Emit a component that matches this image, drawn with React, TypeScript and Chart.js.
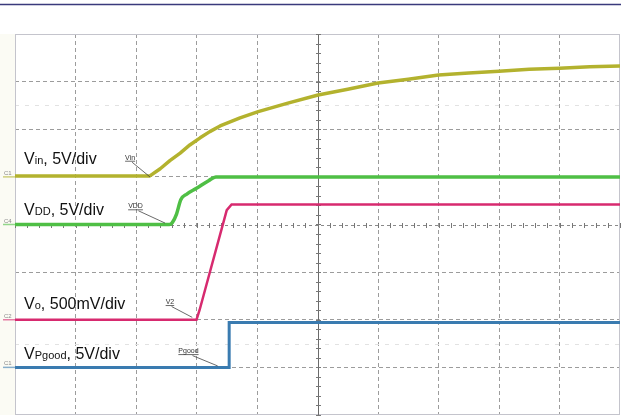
import React, { useEffect, useRef } from "react";
import { Chart, registerables } from "chart.js";

Chart.register(...registerables);

// Time axis in divisions (0..10), vertical in divisions (0..8 from bottom)
const vinX = [0, 2.23, 2.4, 2.56, 2.73, 2.89, 3.06, 3.22, 3.39, 3.72, 4.02, 4.51, 5.01, 5.5, 6.0, 6.5, 7.0, 7.5, 8.0, 8.5, 9.0, 9.5, 10];
const vinY = [5.02, 5.02, 5.17, 5.34, 5.5, 5.67, 5.82, 5.95, 6.07, 6.24, 6.37, 6.55, 6.72, 6.84, 6.97, 7.05, 7.14, 7.18, 7.22, 7.26, 7.28, 7.31, 7.33];

const vddX = [0, 2.55, 2.6, 2.67, 2.74, 2.84, 3.0, 3.2, 3.32, 10];
const vddY = [4.0, 4.0, 4.04, 4.22, 4.52, 4.64, 4.76, 4.92, 5.0, 5.0];

const voX = [0, 3.0, 3.05, 3.5, 3.58, 10];
const voY = [2.0, 2.0, 2.2, 4.3, 4.42, 4.42];

const pgX = [0, 3.54, 3.54, 10];
const pgY = [1.0, 1.0, 1.94, 1.94];

const xTicks = [0, 1, 2, 3, 4, 5, 6, 7, 8, 9, 10];
const yTicks = [0, 1, 2, 3, 4, 5, 6, 7, 8];

// Trace legends (main text, subscript, rest)
const legendMain = ["V", "V", "V", "V"];
const legendSub = ["in", "DD", "o", "Pgood"];
const legendRest = [", 5V/div", ", 5V/div", ", 500mV/div", ", 5V/div"];
const legendAt = [[0.15, 5.27], [0.15, 4.2], [0.15, 2.23], [0.15, 1.18]];

// small probe tags
const tagText = ["Vin", "VDD", "V2", "Pgood"];
const tagAt = [[1.82, 5.36], [1.87, 4.34], [2.49, 2.33], [2.7, 1.3]];
const tagTo = [[2.23, 5.0], [2.48, 4.03], [2.93, 2.05], [3.35, 1.03]];

const chanText = ["C1", "C4", "C2", "C1"];
const chanLevel = [5.0, 4.0, 2.0, 1.0];

const colors = ["#b3b22e", "#4fbf45", "#d72a6f", "#3a7bb0"];

const zip = (xs: number[], ys: number[]) => xs.map((x, i) => ({ x, y: ys[i] }));

export default function App() {
  const ref = useRef<HTMLCanvasElement | null>(null);
  useEffect(() => {
    document.body.style.margin = "0";
    const canvas = ref.current!;
    const deco = {
      id: "deco",
      beforeDatasetsDraw(chart: any) {
        const { ctx, chartArea: a, scales } = chart;
        const xs = scales.x, ys = scales.y;
        ctx.save();
        // left strip tint
        ctx.fillStyle = "#fbfbf4";
        ctx.fillRect(0, a.top, a.left, a.bottom - a.top);
        // faint extra dashed rows
        ctx.strokeStyle = "#e2e2e2";
        ctx.lineWidth = 1;
        ctx.setLineDash([4, 6]);
        [6.5, 1.5].forEach((v) => {
          const y = Math.round(ys.getPixelForValue(v)) + 0.5;
          ctx.beginPath();
          ctx.moveTo(a.left, y);
          ctx.lineTo(a.right, y);
          ctx.stroke();
        });
        ctx.setLineDash([]);
        // frame
        ctx.strokeStyle = "#c4c4cc";
        ctx.lineWidth = 1;
        ctx.strokeRect(a.left + 0.5, a.top + 0.5, a.right - a.left - 1, a.bottom - a.top - 1);
        // center crosshair
        const cx = Math.round(xs.getPixelForValue(5)) + 0.5;
        const cy = Math.round(ys.getPixelForValue(4)) + 0.5;
        ctx.strokeStyle = "#6a6a6a";
        ctx.beginPath();
        ctx.moveTo(cx, a.top);
        ctx.lineTo(cx, a.bottom);
        ctx.stroke();
        ctx.setLineDash([3, 3]);
        ctx.strokeStyle = "#8a8a8a";
        ctx.beginPath();
        ctx.moveTo(a.left, cy);
        ctx.lineTo(a.right, cy);
        ctx.stroke();
        ctx.setLineDash([]);
        ctx.strokeStyle = "#777";
        for (let v = 0; v <= 8.001; v += 0.2) {
          const y = Math.round(ys.getPixelForValue(v)) + 0.5;
          ctx.beginPath();
          ctx.moveTo(cx - 2.5, y);
          ctx.lineTo(cx + 2.5, y);
          ctx.stroke();
        }
        for (let v = 0; v <= 10.001; v += 0.2) {
          const x = Math.round(xs.getPixelForValue(v)) + 0.5;
          ctx.beginPath();
          ctx.moveTo(x, cy - 2.5);
          ctx.lineTo(x, cy + 2.5);
          ctx.stroke();
        }
        // top rule
        ctx.strokeStyle = "#3a3a7c";
        ctx.lineWidth = 1.5;
        ctx.beginPath();
        ctx.moveTo(0, 4.5);
        ctx.lineTo(chart.width, 4.5);
        ctx.stroke();
        // channel markers
        ctx.font = "6px 'Liberation Sans', Arial, sans-serif";
        ctx.textBaseline = "alphabetic";
        chanText.forEach((t, i) => {
          const y = ys.getPixelForValue(chanLevel[i]);
          ctx.fillStyle = "#8a8a8a";
          ctx.fillText(t, 4, y - 2);
          ctx.strokeStyle = colors[i];
          ctx.globalAlpha = 0.6;
          ctx.lineWidth = 1.5;
          ctx.beginPath();
          ctx.moveTo(3, y);
          ctx.lineTo(a.left, y);
          ctx.stroke();
          ctx.globalAlpha = 1;
        });
        ctx.restore();
      },
      afterDatasetsDraw(chart: any) {
        const { ctx, scales } = chart;
        const xs = scales.x, ys = scales.y;
        ctx.save();
        ctx.textBaseline = "alphabetic";
        legendMain.forEach((m, i) => {
          let x = xs.getPixelForValue(legendAt[i][0]);
          const y = ys.getPixelForValue(legendAt[i][1]);
          ctx.fillStyle = "#111";
          ctx.font = "16px 'Liberation Sans', Arial, sans-serif";
          ctx.fillText(m, x, y);
          x += ctx.measureText(m).width;
          ctx.font = "11px 'Liberation Sans', Arial, sans-serif";
          ctx.fillText(legendSub[i], x, y);
          x += ctx.measureText(legendSub[i]).width;
          ctx.font = "16px 'Liberation Sans', Arial, sans-serif";
          ctx.fillText(legendRest[i], x, y);
        });
        ctx.font = "7px 'Liberation Sans', Arial, sans-serif";
        tagText.forEach((t, i) => {
          const x = xs.getPixelForValue(tagAt[i][0]);
          const y = ys.getPixelForValue(tagAt[i][1]);
          const w = ctx.measureText(t).width;
          ctx.fillStyle = "#333";
          ctx.fillText(t, x, y);
          ctx.strokeStyle = "#444";
          ctx.lineWidth = 0.8;
          ctx.beginPath();
          ctx.moveTo(x, y + 1.5);
          ctx.lineTo(x + w, y + 1.5);
          ctx.stroke();
          ctx.beginPath();
          ctx.moveTo(x + w * 0.7, y + 2.5);
          ctx.lineTo(xs.getPixelForValue(tagTo[i][0]), ys.getPixelForValue(tagTo[i][1]));
          ctx.stroke();
        });
        ctx.restore();
      },
    };
    const gridColor = (edge: number, center: number) => (c: any) => {
      const v = c.tick ? c.tick.value : 0;
      if (v === 0 || v === edge || v === center) return "rgba(0,0,0,0)";
      return "#9c9c9c";
    };
    const chart = new Chart(canvas, {
      type: "line",
      data: {
        datasets: [
          { data: zip(pgX, pgY), borderColor: colors[3], borderWidth: 3 },
          { data: zip(voX, voY), borderColor: colors[2], borderWidth: 2.5 },
          { data: zip(vddX, vddY), borderColor: colors[1], borderWidth: 3.5, cubicInterpolationMode: "monotone" },
          { data: zip(vinX, vinY), borderColor: colors[0], borderWidth: 3.5, borderJoinStyle: "round" },
        ] as any,
      },
      options: {
        responsive: false,
        animation: false,
        devicePixelRatio: 1,
        layout: { padding: { left: 15, top: 34, right: 1, bottom: 1 } },
        elements: { point: { radius: 0 }, line: { tension: 0 } },
        plugins: { legend: { display: false }, tooltip: { enabled: false } },
        scales: {
          x: {
            type: "linear",
            min: 0,
            max: 10,
            afterBuildTicks: (s: any) => { s.ticks = xTicks.map((v) => ({ value: v })); },
            ticks: { display: false },
            grid: { color: gridColor(10, 5), drawTicks: false, lineWidth: 1 },
            border: { display: false, dash: [4, 3] },
          },
          y: {
            type: "linear",
            min: 0,
            max: 8,
            afterBuildTicks: (s: any) => { s.ticks = yTicks.map((v) => ({ value: v })); },
            ticks: { display: false },
            grid: { color: gridColor(8, 4), drawTicks: false, lineWidth: 1 },
            border: { display: false, dash: [4, 3] },
          },
        },
      } as any,
      plugins: [deco],
    });
    return () => chart.destroy();
  }, []);
  return <canvas ref={ref} width={621} height={416} style={{ display: "block" }} />;
}
